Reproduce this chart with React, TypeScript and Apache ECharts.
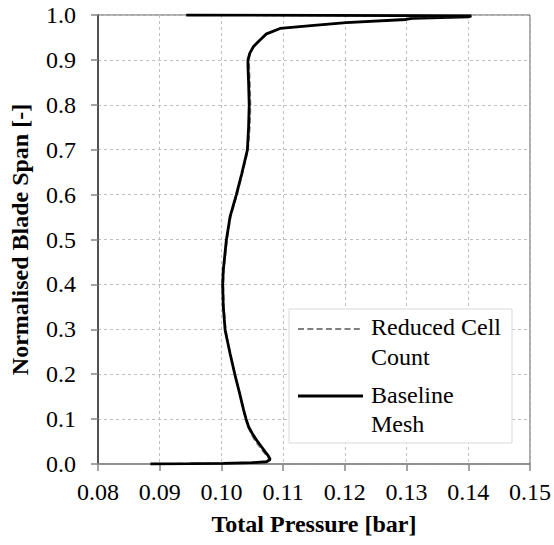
import React, { useEffect, useRef } from "react";
import * as echarts from "echarts";

// Baseline Mesh: [total pressure (bar), normalised span]
const baselinePressure = [
  0.0885, 0.0950, 0.1003, 0.1050, 0.1073, 0.1079, 0.1076, 0.1071, 0.1064, 0.1057, 0.1050, 0.1044, 0.1040,
  0.1036, 0.1029, 0.1022, 0.1014, 0.1006, 0.1003, 0.1002, 0.1003, 0.1008, 0.1014, 0.1024, 0.1033,
  0.1042, 0.1044, 0.1045, 0.1044, 0.1043, 0.1043, 0.1046, 0.1052, 0.1060, 0.1073, 0.1095, 0.1150,
  0.1202, 0.1299, 0.1309, 0.1401, 0.1405, 0.0943,
];
const baselineSpan = [
  0.000, 0.0008, 0.0015, 0.003, 0.005, 0.010, 0.018, 0.027, 0.040, 0.053, 0.068, 0.083, 0.100,
  0.120, 0.160, 0.198, 0.246, 0.298, 0.350, 0.399, 0.432, 0.499, 0.551, 0.599, 0.647,
  0.699, 0.750, 0.800, 0.850, 0.885, 0.900, 0.915, 0.930, 0.941, 0.958, 0.970, 0.977,
  0.983, 0.990, 0.9925, 0.996, 0.998, 1.000,
];
// Reduced Cell Count
const reducedPressure = [
  0.0885, 0.0950, 0.1003, 0.1050, 0.1072, 0.1078, 0.1074, 0.1068, 0.1061, 0.1054, 0.1048, 0.1043, 0.1039,
  0.1036, 0.1029, 0.1022, 0.1014, 0.1007, 0.1004, 0.1003, 0.1004, 0.1009, 0.1015, 0.1025, 0.1034,
  0.1043, 0.1046, 0.1047, 0.1046, 0.1045, 0.1044, 0.1047, 0.1053, 0.1061, 0.1074, 0.1096, 0.1150,
  0.1202, 0.1295, 0.1310, 0.1400, 0.1404, 0.0943,
];
const reducedSpan = baselineSpan;

const xTicks = { min: 0.08, max: 0.15, interval: 0.01 };
const yTicks = { min: 0, max: 1, interval: 0.1 };

const seriesNames = ["Reduced Cell Count", "Baseline Mesh"];
const xTitle = "Total Pressure [bar]";
const yTitle = "Normalised Blade Span [-]";

const FONT = "Liberation Serif, Times New Roman, serif";

export default function App() {
  const ref = useRef<HTMLDivElement>(null);
  useEffect(() => {
    document.body.style.margin = "0";
    const chart = echarts.init(ref.current!, null, { renderer: "svg" });
    const toPairs = (p: number[], s: number[]) => p.map((v, i) => [v, s[i]]);
    const grid = { left: 97, right: 22, top: 15, bottom: 81 };
    const txt = (text: string, x: number, y: number) => ({
      type: "text",
      x,
      y: y - 13,
      style: { text, fontFamily: FONT, fontSize: 24, fill: "#000" },
      z: 101,
    });
    chart.setOption({
      animation: false,
      textStyle: { fontFamily: FONT },
      grid: { ...grid, show: true, borderColor: "#555555", borderWidth: 1 },
      xAxis: {
        type: "value",
        min: xTicks.min,
        max: xTicks.max,
        interval: xTicks.interval,
        name: xTitle,
        nameLocation: "middle",
        nameGap: 48,
        nameTextStyle: { fontFamily: FONT, fontSize: 24, fontWeight: "bold", color: "#000" },
        axisLine: { show: true, onZero: false, lineStyle: { color: "#868686", width: 1.5 } },
        axisTick: { show: true, inside: false, length: 7, lineStyle: { color: "#868686", width: 1.5 } },
        axisLabel: { margin: 16, fontFamily: FONT, fontSize: 24, color: "#000", formatter: (v: number) => v.toFixed(2) },
        splitLine: { show: true, lineStyle: { color: "#bfbfbf", type: [3, 3], width: 1 } },
      },
      yAxis: {
        type: "value",
        min: yTicks.min,
        max: yTicks.max,
        interval: yTicks.interval,
        name: yTitle,
        nameLocation: "middle",
        nameGap: 66,
        nameTextStyle: { fontFamily: FONT, fontSize: 24, fontWeight: "bold", color: "#000" },
        axisLine: { show: true, onZero: false, lineStyle: { color: "#333333", width: 1.5 } },
        axisTick: { show: true, inside: false, length: 7, lineStyle: { color: "#868686", width: 1.5 } },
        axisLabel: { margin: 22, fontFamily: FONT, fontSize: 24, color: "#000", formatter: (v: number) => v.toFixed(1) },
        splitLine: { show: true, lineStyle: { color: "#bfbfbf", type: [3, 3], width: 1 } },
      },
      series: [
        {
          name: seriesNames[0],
          type: "line",
          data: toPairs(reducedPressure, reducedSpan),
          showSymbol: false,
          symbol: "none",
          lineStyle: { color: "#808080", width: 1.8, type: [6, 3] },
          z: 2,
        },
        {
          name: seriesNames[1],
          type: "line",
          data: toPairs(baselinePressure, baselineSpan),
          showSymbol: false,
          symbol: "none",
          lineStyle: { color: "#000000", width: 2.8 },
          z: 3,
        },
      ],
      graphic: [
        {
          type: "rect",
          shape: { x: 289, y: 309, width: 223, height: 134 },
          style: { fill: "#ffffff", stroke: "#d9d9d9", lineWidth: 1 },
          z: 100,
        },
        {
          type: "line",
          shape: { x1: 298, y1: 329, x2: 363, y2: 329 },
          style: { stroke: "#808080", lineWidth: 2, lineDash: [6, 3.3] },
          z: 101,
        },
        {
          type: "line",
          shape: { x1: 298, y1: 396, x2: 363, y2: 396 },
          style: { stroke: "#000000", lineWidth: 3 },
          z: 101,
        },
        txt("Reduced Cell", 371, 328),
        txt("Count", 371, 358),
        txt("Baseline", 371, 396),
        txt("Mesh", 371, 425),
      ],
    });
    return () => chart.dispose();
  }, []);
  return <div ref={ref} style={{ width: 554, height: 545, fontFamily: FONT }} />;
}
